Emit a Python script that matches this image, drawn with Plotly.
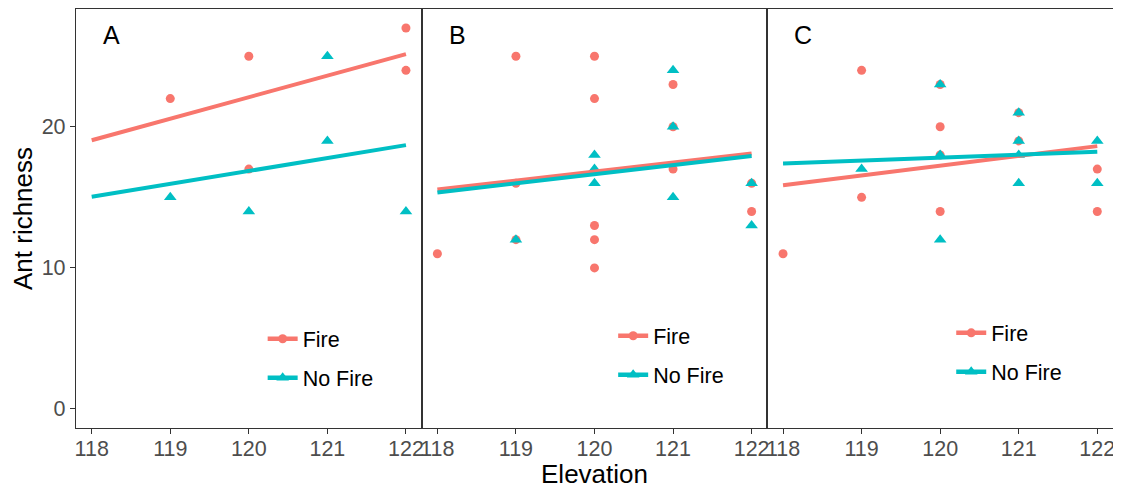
import plotly.graph_objects as go

# ---------------- data ----------------
panels = ["A", "B", "C"]
series_names = ["Fire", "No Fire"]

a_fire_x = [119, 120, 120, 122, 122]
a_fire_y = [22, 25, 17, 27, 24]
a_nofire_x = [119, 120, 121, 121, 122]
a_nofire_y = [15, 14, 25, 19, 14]

b_fire_x = [118, 119, 119, 119, 120, 120, 120, 120, 120, 121, 121, 121, 122, 122]
b_fire_y = [11, 25, 16, 12, 25, 22, 13, 12, 10, 23, 20, 17, 16, 14]
b_nofire_x = [119, 120, 120, 120, 121, 121, 121, 122, 122]
b_nofire_y = [12, 18, 17, 16, 24, 20, 15, 16, 13]

c_fire_x = [118, 119, 119, 120, 120, 120, 120, 121, 121, 122, 122]
c_fire_y = [11, 24, 15, 23, 20, 18, 14, 21, 19, 17, 14]
c_nofire_x = [119, 120, 120, 120, 121, 121, 121, 121, 122, 122]
c_nofire_y = [17, 23, 18, 12, 21, 19, 18, 16, 19, 16]

# fitted (lm) lines: values at elevation 118 and 122
fit_x = [118, 122]
a_fire_fit = [19.05, 25.15]
a_nofire_fit = [15.04, 18.70]
b_fire_fit = [15.55, 18.10]
b_nofire_fit = [15.34, 17.93]
c_fire_fit = [15.85, 18.63]
c_nofire_fit = [17.40, 18.23]

x_ticks = [118, 119, 120, 121, 122]
y_ticks = [0, 10, 20]

# ---------------- style ----------------
FIRE = "#F8766D"
NOFIRE = "#00BFC4"
FONT = "Arial, Liberation Sans, sans-serif"
BORDER = "#333333"
TICKLAB = "#4D4D4D"
TICK_SIZE = 21.5
TITLE_SIZE = 26
LEG_SIZE = 21.5

data = {
    "A": (a_fire_x, a_fire_y, a_nofire_x, a_nofire_y, a_fire_fit, a_nofire_fit),
    "B": (b_fire_x, b_fire_y, b_nofire_x, b_nofire_y, b_fire_fit, b_nofire_fit),
    "C": (c_fire_x, c_fire_y, c_nofire_x, c_nofire_y, c_fire_fit, c_nofire_fit),
}

fig = go.Figure()
legends = ["legend", "legend2", "legend3"]

for i, p in enumerate(panels):
    xa = "x" if i == 0 else f"x{i+1}"
    ya = "y" if i == 0 else f"y{i+1}"
    fx, fy, nx, ny, ffit, nfit = data[p]
    fig.add_trace(go.Scatter(x=fx, y=fy, mode="markers", xaxis=xa, yaxis=ya,
                             marker=dict(color=FIRE, size=9, symbol="circle"),
                             showlegend=False, hoverinfo="skip"))
    fig.add_trace(go.Scatter(x=nx, y=ny, mode="markers", xaxis=xa, yaxis=ya,
                             marker=dict(color=NOFIRE, size=11, symbol="triangle-up"),
                             showlegend=False, hoverinfo="skip"))
    fig.add_trace(go.Scatter(x=fit_x, y=ffit, mode="lines", xaxis=xa, yaxis=ya,
                             line=dict(color=FIRE, width=4),
                             showlegend=False, hoverinfo="skip"))
    fig.add_trace(go.Scatter(x=fit_x, y=nfit, mode="lines", xaxis=xa, yaxis=ya,
                             line=dict(color=NOFIRE, width=4),
                             showlegend=False, hoverinfo="skip"))
    # legend entries (line + marker key)
    for name, col, sym, sz in [("Fire", FIRE, "circle", 9), ("No Fire", NOFIRE, "triangle-up", 11)]:
        fig.add_trace(go.Scatter(x=[None], y=[None], mode="lines+markers", name=name,
                                 xaxis=xa, yaxis=ya, legend=legends[i],
                                 legendgroup=f"{p}-{name}",
                                 line=dict(color=col, width=4.5),
                                 marker=dict(color=col, size=sz, symbol=sym)))
    fig.add_annotation(x=118.25, y=26.5, xref=xa, yref=ya, text=p, showarrow=False,
                       font=dict(family=FONT, size=25, color="black"))

dom = [[0, 1/3], [1/3, 2/3], [2/3, 1]]
# page has an 8px body margin, so the figure is 8px smaller than the window
layout = dict(
    width=1113, height=481,
    margin=dict(l=68, r=8, t=1, b=61),
    paper_bgcolor="white", plot_bgcolor="white",
    font=dict(family=FONT, color="black"),
)
for i in range(3):
    xk = "xaxis" if i == 0 else f"xaxis{i+1}"
    yk = "yaxis" if i == 0 else f"yaxis{i+1}"
    layout[xk] = dict(domain=dom[i], range=[117.8, 122.2], anchor="y" if i == 0 else f"y{i+1}",
                      tickvals=x_ticks, ticktext=[str(v) for v in x_ticks],
                      showline=True, linecolor=BORDER, linewidth=1.3, mirror=True,
                      ticks="outside", ticklen=5, tickcolor=BORDER, tickwidth=1.3,
                      ticklabelstandoff=-4,
                      tickfont=dict(family=FONT, size=TICK_SIZE, color=TICKLAB),
                      showgrid=False, zeroline=False, fixedrange=True)
    layout[yk] = dict(domain=[0, 1], range=[-1.35, 28.35], anchor="x" if i == 0 else f"x{i+1}",
                      showline=True, linecolor=BORDER, linewidth=1.3, mirror=True,
                      showgrid=False, zeroline=False, fixedrange=True)
    if i == 0:
        layout[yk].update(tickvals=y_ticks, ticktext=[str(v) for v in y_ticks],
                          ticks="outside", ticklen=5, tickcolor=BORDER, tickwidth=1.3,
                          tickfont=dict(family=FONT, size=TICK_SIZE, color=TICKLAB),
                          title=dict(text="Ant richness", standoff=6,
                                     font=dict(family=FONT, size=TITLE_SIZE, color="black")))
    else:
        layout[yk].update(ticks="", showticklabels=False)
layout["xaxis2"]["title"] = dict(text="Elevation", standoff=7,
                                 font=dict(family=FONT, size=TITLE_SIZE, color="black"))

leg_x = [0.180, 0.518, 0.844]
leg_y = [0.262, 0.269, 0.276]
for i, lk in enumerate(legends):
    layout[lk] = dict(x=leg_x[i], y=leg_y[i], xanchor="left", yanchor="top",
                      bgcolor="rgba(0,0,0,0)", borderwidth=0, tracegroupgap=8,
                      font=dict(family=FONT, size=LEG_SIZE, color="black"))

fig.update_layout(**layout)
fig.write_html("out.html")
